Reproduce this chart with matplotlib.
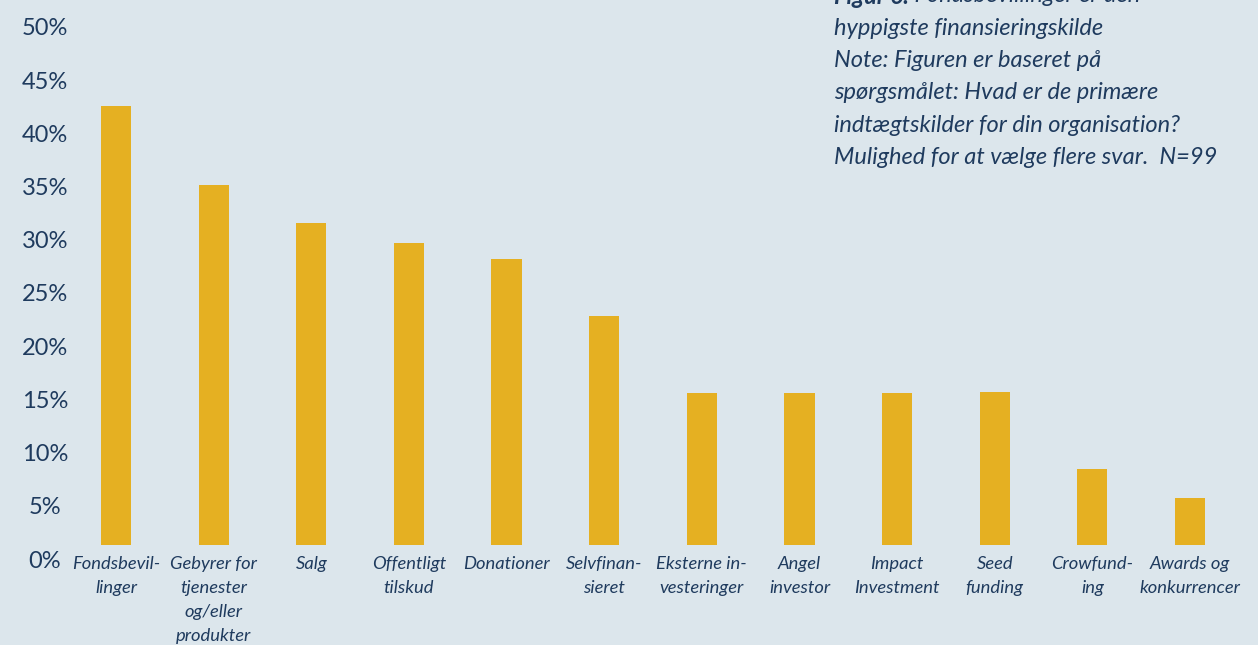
import matplotlib.pyplot as plt
from matplotlib.transforms import ScaledTranslation

# ===================== data =====================
categories = [
    "Fondsbevil-\nlinger",
    "Gebyrer for\ntjenester\nog/eller\nprodukter",
    "Salg",
    "Offentligt\ntilskud",
    "Donationer",
    "Selvfinan-\nsieret",
    "Eksterne in-\nvesteringer",
    "Angel\ninvestor",
    "Impact\nInvestment",
    "Seed\nfunding",
    "Crowfund-\ning",
    "Awards og\nkonkurrencer",
]
values = [41.3, 33.8, 30.3, 28.4, 26.9, 21.5, 14.3, 14.3, 14.3, 14.4, 7.1, 4.4]
y_ticks = [0, 5, 10, 15, 20, 25, 30, 35, 40, 45, 50]
y_labels = [f"{v}%" for v in y_ticks]

title_bold = "Figur 6:"
title_rest = " Fondsbevillinger er den"
note_lines = [
    "hyppigste finansieringskilde",
    "Note: Figuren er baseret på",
    "spørgsmålet: Hvad er de primære",
    "indtægtskilder for din organisation?",
    "Mulighed for at vælge flere svar.  N=99",
]

# ===================== style =====================
bg = "#dce6ec"
bar_col = "#e5b022"
txt_col = "#1f3b5e"
W, H = 1258, 645

fig = plt.figure(figsize=(W / 100, H / 100), dpi=100, facecolor=bg)
ax = fig.add_axes([67.2 / W, 100 / H, 1171.6 / W, 532 / H])
ax.set_facecolor(bg)

x = list(range(len(categories)))
ax.bar(x, values, width=0.31, color=bar_col)
ax.set_xlim(-0.5, len(categories) - 0.5)
ax.set_ylim(0, 50)

for s in ax.spines.values():
    s.set_visible(False)

ax.set_yticks(y_ticks)
ax.set_yticklabels(y_labels, fontfamily="Lato", fontsize=17, color=txt_col, ha="center")
ax.tick_params(axis="y", length=0, pad=16)
off = ScaledTranslation(0, -14 / 100, fig.dpi_scale_trans)
for lab in ax.get_yticklabels():
    lab.set_transform(lab.get_transform() + off)

ax.set_xticks(x)
ax.set_xticklabels(categories, fontfamily="Lato", fontstyle="italic", fontsize=13.2,
                   color=txt_col, linespacing=1.62)
ax.tick_params(axis="x", length=0, pad=8)

# ===================== note text (top right) =====================
x0 = 834 / W
step = 32.3
fs = 17
t = fig.text(x0, 1 - (-4) / H, title_bold, fontfamily="Lato", fontstyle="italic",
             fontweight="bold", fontsize=fs, color=txt_col, va="center")
ax.annotate(title_rest, xy=(1, 0.5), xycoords=t, va="center", fontfamily="Lato",
            fontstyle="italic", fontsize=fs, color=txt_col, annotation_clip=False)
for i, line in enumerate(note_lines):
    fig.text(x0, 1 - (-4 + step * (i + 1)) / H, line, fontfamily="Lato",
             fontstyle="italic", fontsize=fs, color=txt_col, va="center")

fig.savefig("out.png", dpi=100, facecolor=bg)
